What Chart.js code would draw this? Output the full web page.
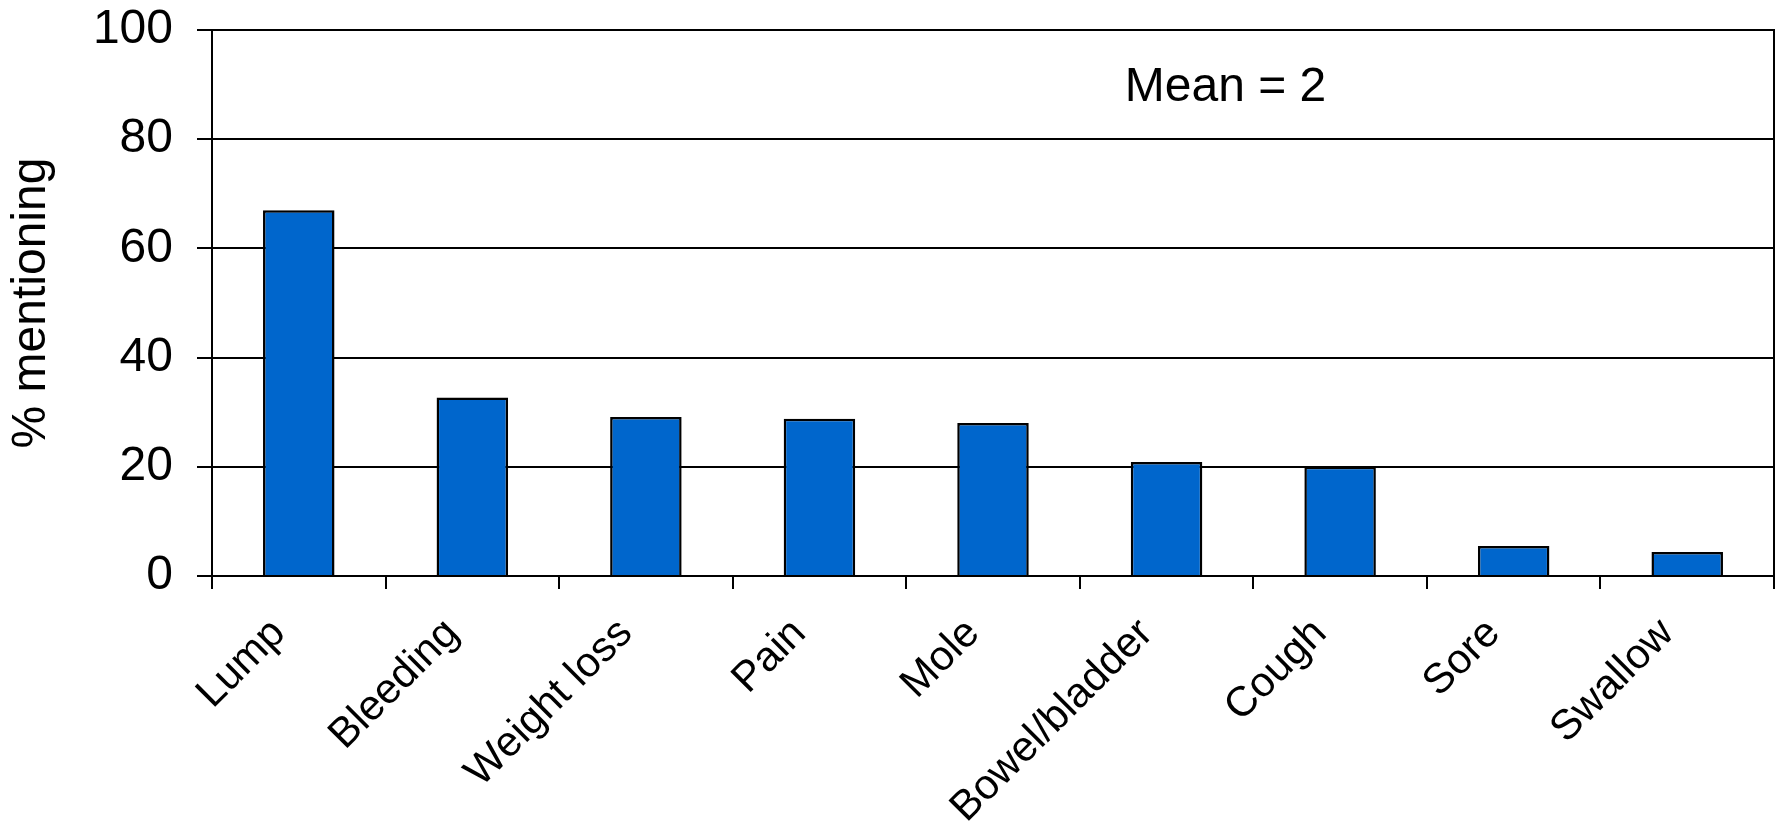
<!DOCTYPE html>
<html>
<head>
<meta charset="utf-8">
<script src="https://cdn.jsdelivr.net/npm/chart.js@4/dist/chart.umd.min.js"></script>
<style>
  html, body { margin: 0; padding: 0; background: #fff; }
  canvas { display: block; }
</style>
</head>
<body>
<canvas id="symptomChart" width="1781" height="821"></canvas>
<script>
// Data
const categories = ['Lump', 'Bleeding', 'Weight loss', 'Pain', 'Mole', 'Bowel/bladder', 'Cough', 'Sore', 'Swallow'];
const percentMentioning = [67.0, 32.7, 29.1, 28.8, 28.0, 20.9, 20.0, 5.5, 4.4];
const yTicks = [0, 20, 40, 60, 80, 100];
const meanText = 'Mean = 2';

const FONT = "'Liberation Sans', Arial, sans-serif";

// Draws the box round the plot and the "Mean = 2" note
const framePlugin = {
    id: 'frame',
    afterDraw(chart) {
        const { ctx, chartArea, scales } = chart;
        ctx.save();
        ctx.strokeStyle = '#000';
        ctx.lineWidth = 2;
        ctx.beginPath();
        ctx.moveTo(chartArea.left, chartArea.top);
        ctx.lineTo(chartArea.right, chartArea.top);
        ctx.lineTo(chartArea.right, chartArea.bottom);
        ctx.stroke();

        ctx.fillStyle = '#000';
        ctx.font = '48px ' + FONT;
        ctx.textAlign = 'center';
        ctx.textBaseline = 'middle';
        ctx.fillText(meanText, scales.x.getPixelForValue(5.34), scales.y.getPixelForValue(89.5));
        ctx.restore();
    }
};

const ctx = document.getElementById('symptomChart').getContext('2d');

new Chart(ctx, {
    type: 'bar',
    data: {
        labels: categories,
        datasets: [{
            data: percentMentioning,
            backgroundColor: '#0066CC',
            borderColor: '#000',
            borderWidth: 2.5,
            categoryPercentage: 1.0,
            barPercentage: 0.412,
        }]
    },
    options: {
        responsive: false,
        animation: false,
        layout: { padding: { top: 0, right: 7, left: 0, bottom: 0 } },
        plugins: {
            legend: { display: false },
            tooltip: { enabled: false },
        },
        scales: {
            x: {
                afterFit: (axis) => {
                    axis.height = 245;
                    axis.paddingLeft = 0;
                    axis.paddingRight = 0;
                },
                grid: {
                    drawOnChartArea: false,
                    drawTicks: true,
                    tickLength: 13,
                    color: '#000',
                    lineWidth: 2,
                    offset: true,
                },
                border: { color: '#000', width: 2 },
                ticks: {
                    color: '#000',
                    font: { family: FONT, size: 42 },
                    maxRotation: 45,
                    minRotation: 45,
                    padding: 20,
                    labelOffset: -20,
                    autoSkip: false,
                },
            },
            y: {
                min: 0,
                max: 100,
                afterBuildTicks: (axis) => { axis.ticks = yTicks.map(v => ({ value: v })); },
                afterFit: (axis) => {
                    axis.width = 212;
                    axis.paddingTop = 30;
                },
                grid: {
                    color: '#000',
                    lineWidth: 2,
                    tickLength: 15,
                },
                border: { color: '#000', width: 2 },
                ticks: {
                    color: '#000',
                    font: { family: FONT, size: 48 },
                    padding: 24,
                },
                title: {
                    display: true,
                    text: '% mentioning',
                    color: '#000',
                    font: { family: FONT, size: 48, lineHeight: 1 },
                    padding: { top: 8, bottom: 36 },
                },
            }
        }
    },
    plugins: [framePlugin]
});
</script>
</body>
</html>
